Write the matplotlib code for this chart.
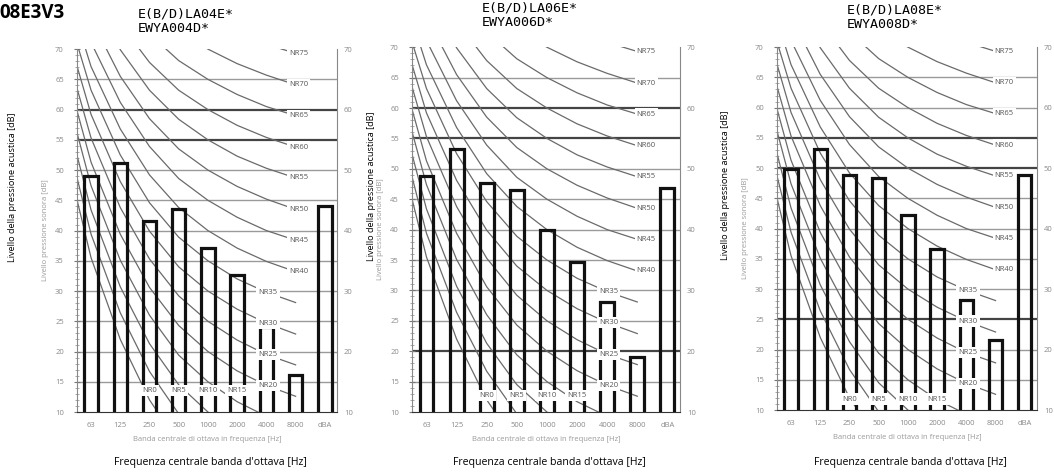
import numpy as np
import matplotlib
matplotlib.use("Agg")
import matplotlib.pyplot as plt

plt.rcParams["font.family"] = ["Open Sans", "DejaVu Sans"]

# octave bands shown on the x axis
bands = ['63', '125', '250', '500', '1000', '2000', '4000', '8000', 'dBA']

# sound pressure level per band [dB]
levels_04 = [49.1, 51.1, 41.5, 43.5, 37.1, 32.7, 24.0, 16.1, 44.0]
levels_06 = [48.9, 53.2, 47.6, 46.5, 39.9, 34.7, 28.1, 19.0, 46.9]
levels_08 = [49.8, 53.2, 48.8, 48.3, 42.2, 36.7, 28.2, 21.6, 48.8]

model_04 = ["E(B/D)LA04E*", "EWYA004D*"]
model_06 = ["E(B/D)LA06E*", "EWYA006D*"]
model_08 = ["E(B/D)LA08E*", "EWYA008D*"]

# NR curves, 31.5 Hz ... 8000 Hz
nr_numbers = [0, 5, 10, 15, 20, 25, 30, 35, 40, 45, 50, 55, 60, 65, 70, 75]
nr_table = [
    [55.4, 35.5, 22.0, 12.0, 4.8, 0.0, -3.5, -6.1, -8.0],
    [58.8, 39.4, 26.4, 16.7, 9.7, 5.0, 1.6, -1.0, -2.9],
    [62.2, 43.4, 30.7, 21.3, 14.5, 10.0, 6.6, 4.2, 2.3],
    [65.6, 47.4, 35.1, 26.0, 19.4, 15.0, 11.7, 9.3, 7.5],
    [69.0, 51.3, 39.4, 30.6, 24.3, 20.0, 16.8, 14.4, 12.6],
    [72.4, 55.3, 43.8, 35.3, 29.2, 25.0, 21.9, 19.5, 17.8],
    [75.8, 59.2, 48.1, 39.9, 34.0, 30.0, 27.0, 24.7, 22.9],
    [79.2, 63.2, 52.5, 44.6, 38.9, 35.0, 32.0, 29.8, 28.1],
    [82.6, 67.1, 56.8, 49.2, 43.8, 40.0, 37.1, 34.9, 33.2],
    [86.0, 71.1, 61.2, 53.9, 48.6, 45.0, 42.2, 40.0, 38.4],
    [89.4, 75.0, 65.5, 58.5, 53.5, 50.0, 47.3, 45.2, 43.5],
    [92.9, 79.0, 69.9, 63.2, 58.4, 55.0, 52.3, 50.3, 48.7],
    [96.3, 82.9, 74.2, 67.8, 63.2, 60.0, 57.4, 55.4, 53.8],
    [99.7, 86.9, 78.6, 72.5, 68.1, 65.0, 62.5, 60.5, 59.0],
    [103.1, 90.8, 82.9, 77.1, 73.0, 70.0, 67.6, 65.7, 64.1],
    [106.5, 94.8, 87.3, 81.8, 77.9, 75.0, 72.6, 70.8, 69.3],
]

panels = [
    dict(levels=levels_04, model=model_04, rect=[0.0731, 0.1326, 0.2467, 0.764],
         heavy=[60, 55], nr_x=7.1, low_y=13.6, model_xy=(138, 14), ylab_x=13),
    dict(levels=levels_06, model=model_06, rect=[0.3909, 0.1326, 0.2543, 0.768],
         heavy=[60, 55, 20], nr_x=7.3, low_y=12.7, model_xy=(482, 8), ylab_x=371),
    dict(levels=levels_08, model=model_08, rect=[0.7372, 0.1368, 0.2467, 0.764],
         heavy=[55, 50, 25], nr_x=7.3, low_y=11.8, model_xy=(847, 10), ylab_x=725),
]

W, H = 1054, 475
fig = plt.figure(figsize=(W / 100, H / 100), dpi=100)

x = np.arange(len(bands))
x_nr = np.arange(-1, 8)
label_box = dict(facecolor='white', edgecolor='none', pad=1.6)

for p in panels:
    ax = fig.add_axes(p['rect'])
    ax.set_xlim(-0.48, 8.42)
    ax.set_ylim(10, 70)

    for y in range(15, 70, 5):
        if y in p['heavy']:
            ax.axhline(y, color='#444444', lw=1.6, zorder=1)
        else:
            ax.axhline(y, color='#9a9a9a', lw=1.0, zorder=1)

    for n, row in zip(nr_numbers, nr_table):
        ax.plot(x_nr, row, color='#6a6a6a', lw=0.9, zorder=2)

    ax.bar(x, p['levels'], width=0.46, fill=False, edgecolor='#111111',
           linewidth=2.3, zorder=3)

    # NR labels: upper ones at 8000 Hz, middle at 4000 Hz, lowest at the floor
    for n, row in zip(nr_numbers, nr_table):
        if n >= 40:
            ax.text(p['nr_x'], row[8], 'NR%d' % n, fontsize=5.5, color='#555555',
                    ha='center', va='center', bbox=label_box, zorder=5)
        elif n >= 20:
            ax.text(6.05, row[7], 'NR%d' % n, fontsize=5.5, color='#555555',
                    ha='center', va='center', bbox=label_box, zorder=5)
        else:
            ax.text(2 + n / 5, p['low_y'], 'NR%d' % n, fontsize=5.5, color='#555555',
                    ha='center', va='center', bbox=label_box, zorder=5)

    ax.spines['top'].set_visible(False)
    ax.spines['left'].set_color('#888888')
    ax.spines['right'].set_color('#888888')
    ax.spines['bottom'].set_color('#333333')

    ax.set_xticks(x)
    ax.set_xticklabels(bands)
    ax.set_yticks(range(10, 71, 5))
    ax.set_yticks(range(10, 71), minor=True)
    ax.tick_params(axis='x', length=0, pad=7, labelsize=5.5, labelcolor='#8a8a8a')
    ax.tick_params(axis='y', which='major', direction='inout', length=5, width=0.8,
                   color='#777777', pad=7, labelsize=5.5, labelcolor='#8a8a8a',
                   right=True)
    ax.tick_params(axis='y', which='minor', direction='inout', length=3, width=0.6,
                   color='#999999', right=True)

    ax2 = ax.twinx()
    ax2.set_ylim(10, 70)
    ax2.set_yticks(range(10, 71, 10))
    ax2.tick_params(axis='y', length=0, pad=5, labelsize=5.5, labelcolor='#8a8a8a')
    for s in ax2.spines.values():
        s.set_visible(False)

    ax.set_xlabel('Banda centrale di ottava in frequenza [Hz]', fontsize=5.5,
                  color='#9a9a9a', labelpad=5)
    ax.set_ylabel('Livello pressione sonora [dB]', fontsize=5.5, color='#9a9a9a',
                  labelpad=4)

    bx0 = p['rect'][0] * W
    bw = p['rect'][2] * W
    fig.text(bx0 + bw / 2 + 3, 0.027 * H, "Frequenza centrale banda d'ottava [Hz]",
             fontsize=7.6, ha='center', va='center', transform=None)
    fig.text(p['ylab_x'], (p['rect'][1] + p['rect'][3] * 0.62) * H,
             "Livello della pressione acustica [dB]", fontsize=6.6,
             rotation=90, ha='center', va='center', transform=None)

    mx, my = p['model_xy']
    fig.text(mx / W, 1 - my / H, p['model'][0], family='DejaVu Sans Mono',
             fontsize=9.6, va='center', ha='left')
    fig.text(mx / W, 1 - (my + 14.5) / H, p['model'][1], family='DejaVu Sans Mono',
             fontsize=9.6, va='center', ha='left')

fig.text(-1 / W, 1 - 13 / H, '08E3V3', fontsize=13.5, fontweight='bold',
         va='center', ha='left')

fig.savefig('out.png', dpi=100)
